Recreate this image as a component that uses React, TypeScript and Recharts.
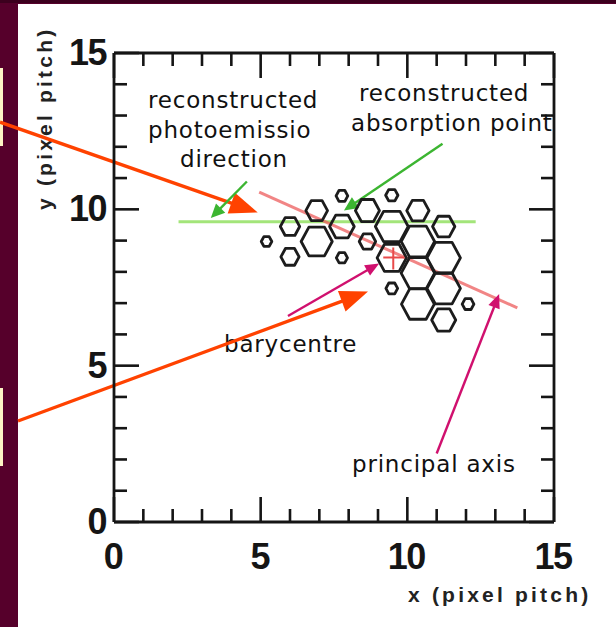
import React from 'react';
import { ScatterChart, Scatter, XAxis, YAxis, ReferenceLine } from 'recharts';

// ---- data ----
const axisTicks = [0, 1, 2, 3, 4, 5, 6, 7, 8, 9, 10, 11, 12, 13, 14, 15];
const majorTickLabels = [0, 5, 10, 15];

const hexX = [5.2, 6.0, 6.0, 6.91, 6.91, 7.77, 7.77, 7.77, 8.64, 8.64, 9.47, 9.47, 9.47, 9.47, 10.36, 10.36, 10.36, 10.36, 11.24, 11.24, 11.24, 11.24, 12.07];
const hexY = [8.97, 9.45, 8.48, 9.96, 8.97, 10.43, 9.45, 8.45, 9.96, 8.97, 10.45, 9.45, 8.45, 7.47, 9.96, 8.97, 7.96, 6.97, 9.45, 8.45, 7.47, 6.46, 6.97];
const hexR = [0.18, 0.33, 0.31, 0.37, 0.53, 0.2, 0.42, 0.19, 0.41, 0.28, 0.21, 0.56, 0.5, 0.2, 0.38, 0.57, 0.57, 0.56, 0.38, 0.57, 0.57, 0.41, 0.2];

const emissionLineX = [2.2, 12.33];
const emissionLineY = [9.6, 9.6];
const principalAxisX = [4.95, 13.75];
const principalAxisY = [10.55, 6.85];
const barycentreX = [9.52];
const barycentreY = [8.46];

const arrowKind = ['red', 'red', 'green', 'green', 'magenta', 'magenta'];
const arrowFromX = [-3.886, -3.273, 4.53, 11.2, 5.93, 11.0];
const arrowFromY = [12.79, 3.23, 10.89, 12.1, 6.59, 2.19];
const arrowToX = [4.9, 8.66, 3.3, 7.84, 9.04, 13.13];
const arrowToY = [9.9, 7.37, 9.72, 9.96, 8.27, 7.29];

const annotationText = ['reconstructed', 'photoemissio', 'direction', 'reconstructed', 'absorption point', 'barycentre', 'principal axis'];

// ---- layout / style ----
const W = 616;
const H = 627;
const PLOT_LEFT = 114;
const PLOT_RIGHT = 554;
const PLOT_TOP = 53;
const PLOT_BOTTOM = 522;
const PXX = (PLOT_RIGHT - PLOT_LEFT) / 15;
const PXY = (PLOT_BOTTOM - PLOT_TOP) / 15;

const annotationPos = [
  [148, 108], [148, 138], [180, 167], [359, 101], [351, 131], [224, 352], [352, 472],
];

const arrowStyle: Record<string, { color: string; w: number; len: number; half: number }> = {
  red: { color: '#ff4200', w: 3.4, len: 28, half: 11 },
  green: { color: '#3cb531', w: 2.4, len: 14, half: 6.5 },
  magenta: { color: '#d0106e', w: 2.4, len: 14, half: 6 },
};

const hexes = hexX.map((x, i) => ({ x, y: hexY[i], r: hexR[i] }));
const bary = barycentreX.map((x, i) => ({ x, y: barycentreY[i] }));

const TICK_FONT = '"Liberation Sans", Arial, Helvetica, sans-serif';
const NOTE_FONT = '"DejaVu Sans", sans-serif';
const INK = '#151515';
const TICK_W = 2.6;

const HexShape = (props: any) => {
  const { cx, cy, payload } = props;
  if (cx == null || cy == null) return null;
  const rx = payload.r * PXX;
  const ry = payload.r * PXY;
  const pts: string[] = [];
  for (let k = 0; k < 6; k++) {
    const a = (Math.PI / 3) * k;
    pts.push(`${cx + rx * Math.cos(a)},${cy + ry * Math.sin(a)}`);
  }
  return <polygon points={pts.join(' ')} fill="none" stroke="#1c1c1c" strokeWidth={2.8} strokeLinejoin="round" />;
};

const CrossShape = (props: any) => {
  const { cx, cy } = props;
  if (cx == null || cy == null) return null;
  return (
    <g stroke="#e84a4a" strokeWidth={2}>
      <line x1={cx - 10} y1={cy} x2={cx + 11} y2={cy} />
      <line x1={cx} y1={cy - 10} x2={cx} y2={cy + 12} />
    </g>
  );
};

const makeArrow = (kind: string) => (p: any) => {
  const s = arrowStyle[kind];
  const { x1, y1, x2, y2 } = p;
  const dx = x2 - x1;
  const dy = y2 - y1;
  const d = Math.sqrt(dx * dx + dy * dy) || 1;
  const ux = dx / d;
  const uy = dy / d;
  const nx = -uy;
  const ny = ux;
  const bx = x2 - ux * s.len;
  const by = y2 - uy * s.len;
  const ex = x2 - ux * s.len * 0.7;
  const ey = y2 - uy * s.len * 0.7;
  return (
    <g>
      <line x1={x1} y1={y1} x2={ex} y2={ey} stroke={s.color} strokeWidth={s.w} />
      <polygon
        points={`${x2},${y2} ${bx + nx * s.half},${by + ny * s.half} ${bx - nx * s.half},${by - ny * s.half}`}
        fill={s.color}
      />
    </g>
  );
};

const BottomTick = (props: any) => {
  const { x, y, payload } = props;
  const v = payload.value;
  const major = majorTickLabels.includes(v);
  return (
    <g>
      <line x1={x} y1={y} x2={x} y2={y - (major ? 25 : 13)} stroke={INK} strokeWidth={TICK_W} />
      {major && (
        <text x={x - 1} y={y + 47} textAnchor="middle" fontFamily={TICK_FONT} fontSize={36} fontWeight="bold" letterSpacing={-1.5} fill={INK}>
          {v}
        </text>
      )}
    </g>
  );
};

const TopTick = (props: any) => {
  const { x, y, payload } = props;
  const major = majorTickLabels.includes(payload.value);
  return <line x1={x} y1={y} x2={x} y2={y + (major ? 25 : 13)} stroke={INK} strokeWidth={TICK_W} />;
};

const LeftTick = (props: any) => {
  const { x, y, payload } = props;
  const v = payload.value;
  const major = majorTickLabels.includes(v);
  return (
    <g>
      <line x1={x} y1={y} x2={x + (major ? 25 : 13)} y2={y} stroke={INK} strokeWidth={TICK_W} />
      {major && (
        <text x={x - 8} y={y + 12} textAnchor="end" fontFamily={TICK_FONT} fontSize={36} fontWeight="bold" letterSpacing={-1.5} fill={INK}>
          {v}
        </text>
      )}
    </g>
  );
};

const RightTick = (props: any) => {
  const { x, y, payload } = props;
  const major = majorTickLabels.includes(payload.value);
  return <line x1={x} y1={y} x2={x - (major ? 25 : 13)} y2={y} stroke={INK} strokeWidth={TICK_W} />;
};

const frame = { stroke: INK, strokeWidth: 2.8 };

export default function App() {
  return (
    <div style={{ position: 'absolute', left: 0, top: 0, width: W, height: H, overflow: 'hidden' }}>
      <svg width={W} height={H} style={{ position: 'absolute', left: 0, top: 0 }}>
        <rect x={0} y={0} width={W} height={H} fill="#56002b" />
        <rect x={0} y={0} width={W} height={3} fill="#3c001e" />
        <rect x={18} y={4} width={W - 18} height={H - 4} fill="#ffffff" />
        <rect x={0} y={68} width={3} height={78} fill="#fdf4c4" />
        <rect x={0} y={388} width={3} height={78} fill="#fdf4c4" />
        {annotationText.map((t, i) => (
          <text
            key={i}
            x={annotationPos[i][0]}
            y={annotationPos[i][1]}
            fontFamily={NOTE_FONT}
            fontSize={23}
            letterSpacing={0.8}
            fill="#111"
          >
            {t}
          </text>
        ))}
        <text x={408} y={602} fontFamily={TICK_FONT} fontSize={21} fontWeight="bold" letterSpacing={3.2} fill="#222">
          x (pixel pitch)
        </text>
        <text transform="translate(52,210) rotate(-90)" x={0} y={0} fontFamily={TICK_FONT} fontSize={21} fontWeight="bold" letterSpacing={3.2} fill="#222">
          y (pixel pitch)
        </text>
      </svg>
      <div style={{ position: 'absolute', left: 0, top: 0 }}>
        <ScatterChart width={W} height={H} margin={{ top: PLOT_TOP - 1, right: W - PLOT_RIGHT - 1, bottom: 0, left: 0 }}>
          <XAxis
            xAxisId={0}
            type="number"
            dataKey="x"
            domain={[0, 15]}
            ticks={axisTicks}
            interval={0}
            allowDataOverflow
            height={H - PLOT_BOTTOM}
            tickSize={0}
            tickMargin={0}
            tickLine={false}
            axisLine={frame}
            tick={(p: any) => <BottomTick {...p} />}
          />
          <XAxis
            xAxisId="top"
            orientation="top"
            type="number"
            dataKey="x"
            domain={[0, 15]}
            ticks={axisTicks}
            interval={0}
            allowDataOverflow
            height={1}
            tickSize={0}
            tickMargin={0}
            tickLine={false}
            axisLine={frame}
            tick={(p: any) => <TopTick {...p} />}
          />
          <YAxis
            yAxisId={0}
            type="number"
            dataKey="y"
            domain={[0, 15]}
            ticks={axisTicks}
            interval={0}
            allowDataOverflow
            width={PLOT_LEFT}
            tickSize={0}
            tickMargin={0}
            tickLine={false}
            axisLine={frame}
            tick={(p: any) => <LeftTick {...p} />}
          />
          <YAxis
            yAxisId="right"
            orientation="right"
            type="number"
            dataKey="y"
            domain={[0, 15]}
            ticks={axisTicks}
            interval={0}
            allowDataOverflow
            width={1}
            tickSize={0}
            tickMargin={0}
            tickLine={false}
            axisLine={frame}
            tick={(p: any) => <RightTick {...p} />}
          />
          <ReferenceLine
            ifOverflow="visible"
            segment={[
              { x: emissionLineX[0], y: emissionLineY[0] },
              { x: emissionLineX[1], y: emissionLineY[1] },
            ]}
            stroke="#a3e57a"
            strokeWidth={3}
          />
          <Scatter data={hexes} isAnimationActive={false} shape={(p: any) => <HexShape {...p} />} />
          <Scatter data={hexes} xAxisId="top" yAxisId="right" isAnimationActive={false} shape={() => null} />
          <ReferenceLine
            ifOverflow="visible"
            segment={[
              { x: principalAxisX[0], y: principalAxisY[0] },
              { x: principalAxisX[1], y: principalAxisY[1] },
            ]}
            stroke="rgba(236,92,92,0.75)"
            strokeWidth={3}
          />
          <Scatter data={bary} isAnimationActive={false} shape={(p: any) => <CrossShape {...p} />} />
          {arrowKind.map((k, i) => (
            <ReferenceLine
              key={i}
              ifOverflow="visible"
              segment={[
                { x: arrowFromX[i], y: arrowFromY[i] },
                { x: arrowToX[i], y: arrowToY[i] },
              ]}
              stroke={arrowStyle[k].color}
              shape={makeArrow(k)}
            />
          ))}
        </ScatterChart>
      </div>
    </div>
  );
}
